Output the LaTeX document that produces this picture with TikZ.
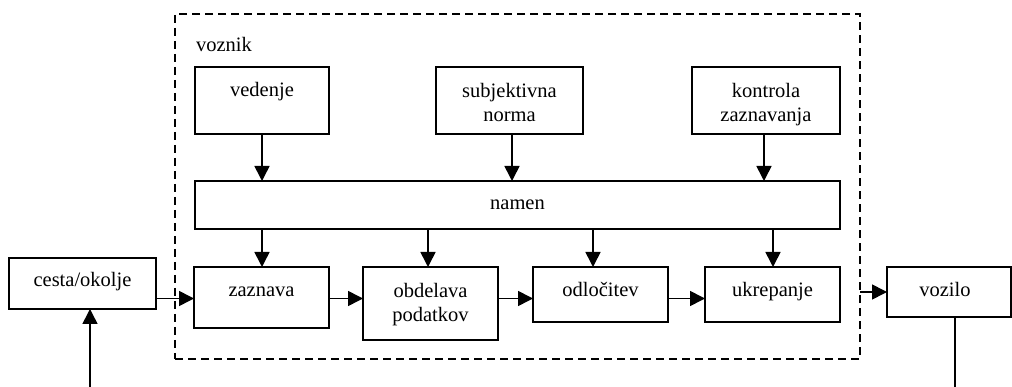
\documentclass[tikz,border=0pt]{standalone}
\usepackage{fontspec}
\setmainfont{Liberation Serif}
\usetikzlibrary{arrows.meta}
\begin{document}
\begin{tikzpicture}[x=1pt,y=-1pt,
  box/.style={draw, line width=1.6pt, inner sep=0pt, outer sep=0pt, anchor=north west},
  lbl/.style={inner sep=0pt, outer sep=0pt, align=center, font=\fontsize{20.5}{24}\selectfont},
  lbltop/.style={lbl, anchor=north},
  lblbase/.style={lbl, anchor=base},
  arr/.style={line width=1.6pt, -{Triangle[length=15pt,width=15pt]}},
  ln/.style={line width=1.6pt},
  frame/.style={draw, dashed, dash pattern=on 8pt off 5pt, line width=1.6pt, inner sep=0pt, outer sep=0pt, anchor=north west}]
\useasboundingbox (0,0) rectangle (1012,387);

% driver frame
\node[frame, minimum width=685pt, minimum height=345pt] (frame) at (175,14) {};
\node[lblbase, anchor=base west] (voznik) at (196,52) {voznik};

% top row
\node[box, minimum width=134pt, minimum height=67pt] (ved) at (195,67) {};
\node[lblbase] (vedt) at (262,97) {vedenje};
\node[box, minimum width=147pt, minimum height=67pt] (subj) at (436,67) {};
\node[lbltop] (subjt) at (509.5,83) {subjektivna\\norma};
\node[box, minimum width=148pt, minimum height=67pt] (kon) at (692,67) {};
\node[lbltop] (kont) at (766,83) {kontrola\\zaznavanja};

% namen bar
\node[box, minimum width=645pt, minimum height=48pt] (namen) at (195,181) {};
\node[lblbase] (nament) at (517.5,210) {namen};

% bottom row
\node[box, minimum width=135pt, minimum height=61pt] (zaz) at (194,267) {};
\node[lblbase] (zazt) at (261.5,297) {zaznava};
\node[box, minimum width=135pt, minimum height=73pt] (obd) at (363,267) {};
\node[lbltop] (obdt) at (430.5,283) {obdelava\\podatkov};
\node[box, minimum width=135pt, minimum height=55pt] (odl) at (533,267) {};
\node[lblbase] (odlt) at (600.5,297) {odločitev};
\node[box, minimum width=135pt, minimum height=55pt] (ukr) at (705,267) {};
\node[lblbase] (ukrt) at (772.5,297) {ukrepanje};

% outside
\node[box, minimum width=147pt, minimum height=51pt] (cesta) at (9,258) {};
\node[lblbase] (cestat) at (82.5,287) {cesta/okolje};
\node[box, minimum width=124pt, minimum height=50pt] (voz) at (887,267) {};
\node[lblbase] (vozt) at (945,296.5) {vozilo};

\coordinate (cin) at (90,387);
\coordinate (vout) at (955,387);

% arrows top -> namen
\draw[arr] (ved.south) -- (ved.south |- namen.north);
\draw[arr] ([xshift=2.5pt]subj.south) -- ([xshift=2.5pt]subj.south |- namen.north);
\draw[arr] ([xshift=-2pt]kon.south) -- ([xshift=-2pt]kon.south |- namen.north);

% namen -> bottom row
\draw[arr] ([xshift=0.5pt]zaz.north |- namen.south) -- ([xshift=0.5pt]zaz.north);
\draw[arr] ([xshift=-2.5pt]obd.north |- namen.south) -- ([xshift=-2.5pt]obd.north);
\draw[arr] ([xshift=-7.5pt]odl.north |- namen.south) -- ([xshift=-7.5pt]odl.north);
\draw[arr] ([xshift=0.5pt]ukr.north |- namen.south) -- ([xshift=0.5pt]ukr.north);

% horizontal chain
\coordinate (hy) at (0,298.5);
\draw[arr] (cesta.east |- hy) -- (zaz.west |- hy);
\draw[arr] (zaz.east |- hy) -- (obd.west |- hy);
\draw[arr] (obd.east |- hy) -- (odl.west |- hy);
\draw[arr] (odl.east |- hy) -- (ukr.west |- hy);
\draw[arr] (frame.east |- voz.west) -- (voz.west);

% external loop stubs
\draw[arr] (cin) -- (cin |- cesta.south);
\draw[ln] (voz.south -| vout) -- (vout);
\end{tikzpicture}
\end{document}
